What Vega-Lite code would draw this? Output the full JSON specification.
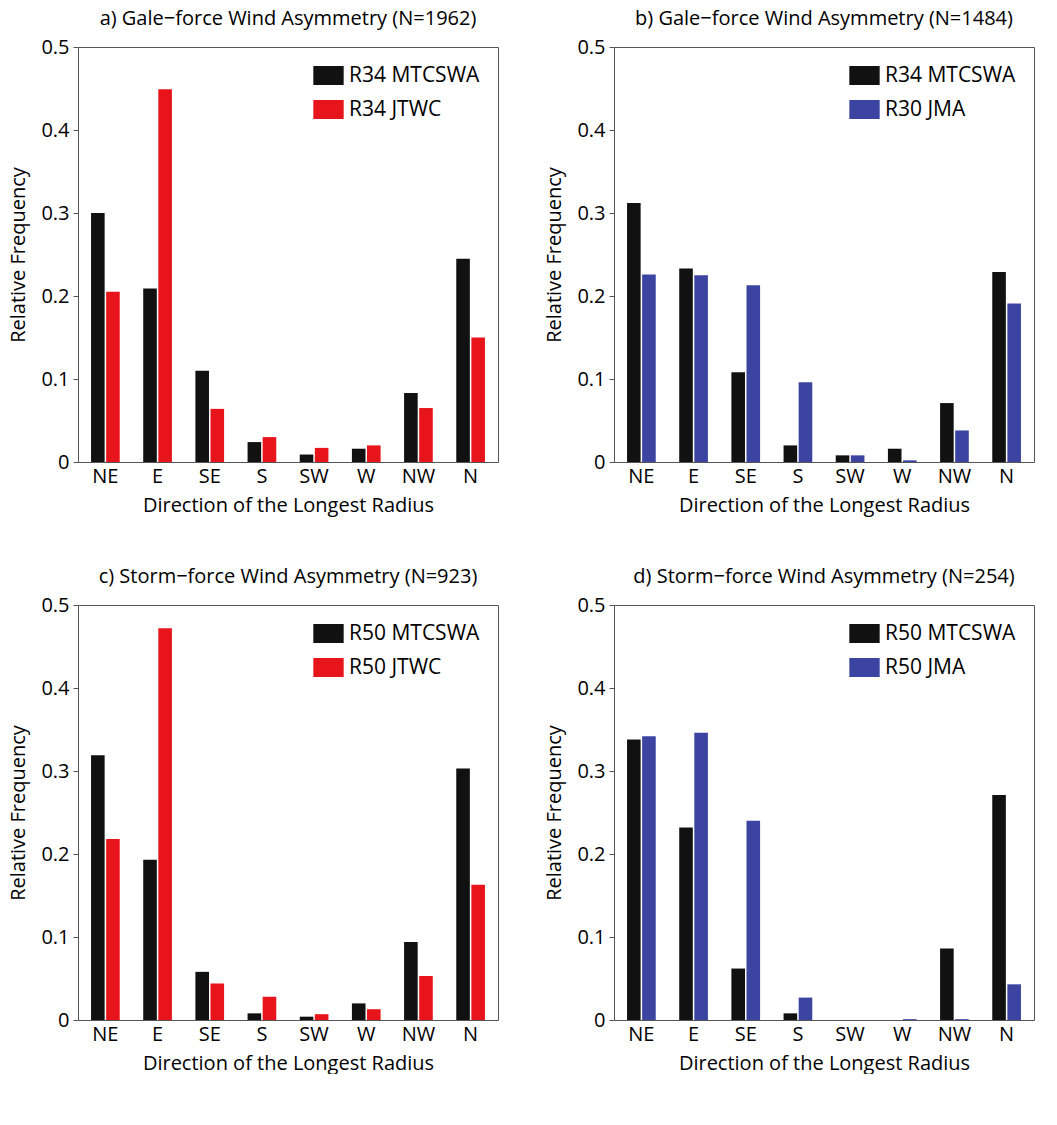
{
  "$schema": "https://vega.github.io/schema/vega-lite/v6.json",
  "background": "white",
  "padding": {"left": 8, "top": 8, "right": 10, "bottom": 0},
  "config": {
    "font": "Open Sans",
    "view": {"stroke": "#555", "strokeWidth": 1},
    "title": {"fontSize": 20, "fontWeight": "normal", "offset": 8},
    "axisX": {"labelFontSize": 20, "titleFontSize": 20, "titleFontWeight": "normal", "labelColor": "black", "titleColor": "black", "domain": false, "grid": false, "ticks": false, "labelPadding": 4, "titlePadding": 9},
    "axisY": {"labelFontSize": 20, "titleFontSize": 20, "titleFontWeight": "normal", "labelColor": "black", "titleColor": "black", "domain": false, "grid": false, "tickColor": "#555", "tickSize": 5, "labelPadding": 4, "titlePadding": 12},
    "legend": {"labelFontSize": 21, "orient": "top-right", "offset": 18, "symbolType": "M-1.6,-1H1.6V1H-1.6Z", "symbolSize": 360, "symbolStrokeWidth": 0, "rowPadding": 12, "labelOffset": 10, "title": null, "padding": 0}
  },
  "data": {"values": [
    {"p":"a","d":"NE","s":"R34 MTCSWA","v":0.300},{"p":"a","d":"E","s":"R34 MTCSWA","v":0.209},{"p":"a","d":"SE","s":"R34 MTCSWA","v":0.110},{"p":"a","d":"S","s":"R34 MTCSWA","v":0.024},{"p":"a","d":"SW","s":"R34 MTCSWA","v":0.009},{"p":"a","d":"W","s":"R34 MTCSWA","v":0.016},{"p":"a","d":"NW","s":"R34 MTCSWA","v":0.083},{"p":"a","d":"N","s":"R34 MTCSWA","v":0.245},
    {"p":"a","d":"NE","s":"R34 JTWC","v":0.205},{"p":"a","d":"E","s":"R34 JTWC","v":0.449},{"p":"a","d":"SE","s":"R34 JTWC","v":0.064},{"p":"a","d":"S","s":"R34 JTWC","v":0.030},{"p":"a","d":"SW","s":"R34 JTWC","v":0.017},{"p":"a","d":"W","s":"R34 JTWC","v":0.020},{"p":"a","d":"NW","s":"R34 JTWC","v":0.065},{"p":"a","d":"N","s":"R34 JTWC","v":0.150},
    {"p":"b","d":"NE","s":"R34 MTCSWA","v":0.312},{"p":"b","d":"E","s":"R34 MTCSWA","v":0.233},{"p":"b","d":"SE","s":"R34 MTCSWA","v":0.108},{"p":"b","d":"S","s":"R34 MTCSWA","v":0.020},{"p":"b","d":"SW","s":"R34 MTCSWA","v":0.008},{"p":"b","d":"W","s":"R34 MTCSWA","v":0.016},{"p":"b","d":"NW","s":"R34 MTCSWA","v":0.071},{"p":"b","d":"N","s":"R34 MTCSWA","v":0.229},
    {"p":"b","d":"NE","s":"R30 JMA","v":0.226},{"p":"b","d":"E","s":"R30 JMA","v":0.225},{"p":"b","d":"SE","s":"R30 JMA","v":0.213},{"p":"b","d":"S","s":"R30 JMA","v":0.096},{"p":"b","d":"SW","s":"R30 JMA","v":0.008},{"p":"b","d":"W","s":"R30 JMA","v":0.002},{"p":"b","d":"NW","s":"R30 JMA","v":0.038},{"p":"b","d":"N","s":"R30 JMA","v":0.191},
    {"p":"c","d":"NE","s":"R50 MTCSWA","v":0.319},{"p":"c","d":"E","s":"R50 MTCSWA","v":0.193},{"p":"c","d":"SE","s":"R50 MTCSWA","v":0.058},{"p":"c","d":"S","s":"R50 MTCSWA","v":0.008},{"p":"c","d":"SW","s":"R50 MTCSWA","v":0.004},{"p":"c","d":"W","s":"R50 MTCSWA","v":0.020},{"p":"c","d":"NW","s":"R50 MTCSWA","v":0.094},{"p":"c","d":"N","s":"R50 MTCSWA","v":0.303},
    {"p":"c","d":"NE","s":"R50 JTWC","v":0.218},{"p":"c","d":"E","s":"R50 JTWC","v":0.472},{"p":"c","d":"SE","s":"R50 JTWC","v":0.044},{"p":"c","d":"S","s":"R50 JTWC","v":0.028},{"p":"c","d":"SW","s":"R50 JTWC","v":0.007},{"p":"c","d":"W","s":"R50 JTWC","v":0.013},{"p":"c","d":"NW","s":"R50 JTWC","v":0.053},{"p":"c","d":"N","s":"R50 JTWC","v":0.163},
    {"p":"d","d":"NE","s":"R50 MTCSWA","v":0.338},{"p":"d","d":"E","s":"R50 MTCSWA","v":0.232},{"p":"d","d":"SE","s":"R50 MTCSWA","v":0.062},{"p":"d","d":"S","s":"R50 MTCSWA","v":0.008},{"p":"d","d":"SW","s":"R50 MTCSWA","v":0},{"p":"d","d":"W","s":"R50 MTCSWA","v":0},{"p":"d","d":"NW","s":"R50 MTCSWA","v":0.086},{"p":"d","d":"N","s":"R50 MTCSWA","v":0.271},
    {"p":"d","d":"NE","s":"R50 JMA","v":0.342},{"p":"d","d":"E","s":"R50 JMA","v":0.346},{"p":"d","d":"SE","s":"R50 JMA","v":0.240},{"p":"d","d":"S","s":"R50 JMA","v":0.027},{"p":"d","d":"SW","s":"R50 JMA","v":0},{"p":"d","d":"W","s":"R50 JMA","v":0.001},{"p":"d","d":"NW","s":"R50 JMA","v":0.001},{"p":"d","d":"N","s":"R50 JMA","v":0.043}
  ]},
  "vconcat": [
    {"hconcat": [
      {"title": "a) Gale−force Wind Asymmetry (N=1962)", "width": 420, "height": 415, "transform": [{"filter": "datum.p == 'a'"}],
       "mark": {"type": "bar"},
       "encoding": {
         "x": {"field": "d", "type": "nominal", "sort": ["NE","E","SE","S","SW","W","NW","N"], "scale": {"paddingInner": 0.45, "paddingOuter": 0.25}, "axis": {"labelAngle": 0, "title": "Direction of the Longest Radius"}},
         "xOffset": {"field": "s", "sort": ["R34 MTCSWA","R34 JTWC"], "scale": {"paddingInner": 0.1}},
         "y": {"field": "v", "type": "quantitative", "scale": {"domain": [0, 0.5]}, "axis": {"values": [0,0.1,0.2,0.3,0.4,0.5], "format": "~g", "title": "Relative Frequency"}},
         "color": {"field": "s", "sort": ["R34 MTCSWA","R34 JTWC"], "scale": {"domain": ["R34 MTCSWA","R34 JTWC"], "range": ["#111111", "#e8141b"]}}
       }},
      {"title": "b) Gale−force Wind Asymmetry (N=1484)", "width": 420, "height": 415, "transform": [{"filter": "datum.p == 'b'"}],
       "mark": {"type": "bar"},
       "encoding": {
         "x": {"field": "d", "type": "nominal", "sort": ["NE","E","SE","S","SW","W","NW","N"], "scale": {"paddingInner": 0.45, "paddingOuter": 0.25}, "axis": {"labelAngle": 0, "title": "Direction of the Longest Radius"}},
         "xOffset": {"field": "s", "sort": ["R34 MTCSWA","R30 JMA"], "scale": {"paddingInner": 0.1}},
         "y": {"field": "v", "type": "quantitative", "scale": {"domain": [0, 0.5]}, "axis": {"values": [0,0.1,0.2,0.3,0.4,0.5], "format": "~g", "title": "Relative Frequency"}},
         "color": {"field": "s", "sort": ["R34 MTCSWA","R30 JMA"], "scale": {"domain": ["R34 MTCSWA","R30 JMA"], "range": ["#111111", "#3b44a0"]}}
       }}
    ], "spacing": 45, "resolve": {"scale": {"color": "independent", "xOffset": "independent"}}},
    {"hconcat": [
      {"title": "c) Storm−force Wind Asymmetry (N=923)", "width": 420, "height": 415, "transform": [{"filter": "datum.p == 'c'"}],
       "mark": {"type": "bar"},
       "encoding": {
         "x": {"field": "d", "type": "nominal", "sort": ["NE","E","SE","S","SW","W","NW","N"], "scale": {"paddingInner": 0.45, "paddingOuter": 0.25}, "axis": {"labelAngle": 0, "title": "Direction of the Longest Radius"}},
         "xOffset": {"field": "s", "sort": ["R50 MTCSWA","R50 JTWC"], "scale": {"paddingInner": 0.1}},
         "y": {"field": "v", "type": "quantitative", "scale": {"domain": [0, 0.5]}, "axis": {"values": [0,0.1,0.2,0.3,0.4,0.5], "format": "~g", "title": "Relative Frequency"}},
         "color": {"field": "s", "sort": ["R50 MTCSWA","R50 JTWC"], "scale": {"domain": ["R50 MTCSWA","R50 JTWC"], "range": ["#111111", "#e8141b"]}}
       }},
      {"title": "d) Storm−force Wind Asymmetry (N=254)", "width": 420, "height": 415, "transform": [{"filter": "datum.p == 'd'"}],
       "mark": {"type": "bar"},
       "encoding": {
         "x": {"field": "d", "type": "nominal", "sort": ["NE","E","SE","S","SW","W","NW","N"], "scale": {"paddingInner": 0.45, "paddingOuter": 0.25}, "axis": {"labelAngle": 0, "title": "Direction of the Longest Radius"}},
         "xOffset": {"field": "s", "sort": ["R50 MTCSWA","R50 JMA"], "scale": {"paddingInner": 0.1}},
         "y": {"field": "v", "type": "quantitative", "scale": {"domain": [0, 0.5]}, "axis": {"values": [0,0.1,0.2,0.3,0.4,0.5], "format": "~g", "title": "Relative Frequency"}},
         "color": {"field": "s", "sort": ["R50 MTCSWA","R50 JMA"], "scale": {"domain": ["R50 MTCSWA","R50 JMA"], "range": ["#111111", "#3b44a0"]}}
       }}
    ], "spacing": 45, "resolve": {"scale": {"color": "independent", "xOffset": "independent"}}}
  ],
  "spacing": 50,
  "resolve": {"scale": {"color": "independent", "xOffset": "independent"}}
}
